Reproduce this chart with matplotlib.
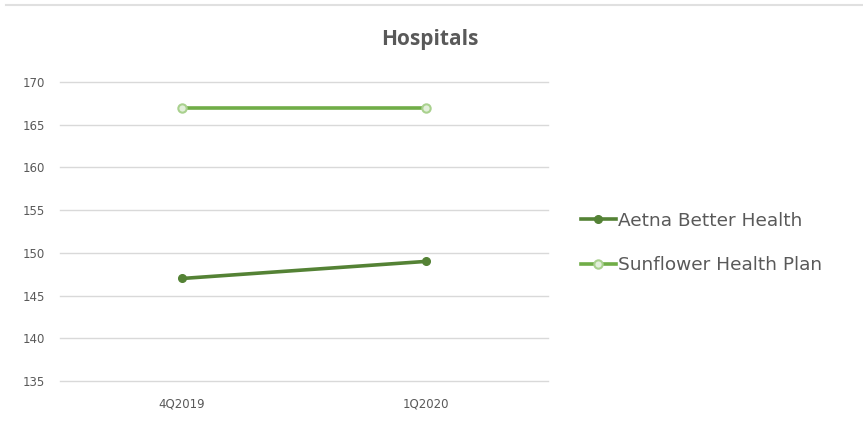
import matplotlib.pyplot as plt
import numpy as np

quarters = ["4Q2019", "1Q2020"]
aetna = [147, 149]
sunflower = [167, 167]
series_names = ["Aetna Better Health", "Sunflower Health Plan"]
yticks = [135, 140, 145, 150, 155, 160, 165, 170]

text_gray = "#595959"
grid_gray = "#D9D9D9"

fig = plt.figure(figsize=(8.63, 4.23), dpi=100)
ax = fig.add_axes([60 / 863, 42 / 423, 488 / 863, 299 / 423])

x = np.arange(len(quarters))
ax.plot(x, aetna, color="#548235", lw=2.6, marker="o", ms=5.5,
        mfc="#548235", mec="#548235", label=series_names[0])
ax.plot(x, sunflower, color="#70AD47", lw=2.6, marker="o", ms=6,
        mfc="#E2EFDA", mec="#A9D18E", mew=1.5, label=series_names[1])

ax.set_xlim(-0.5, 1.5)
ax.set_ylim(135, 170)
ax.set_yticks(yticks)
ax.set_xticks(x)
ax.set_xticklabels(quarters)
ax.yaxis.grid(True, color=grid_gray, lw=1)
for gl in ax.get_ygridlines():
    gl.set_clip_on(False)
ax.set_axisbelow(True)
for s in ax.spines.values():
    s.set_visible(False)
ax.tick_params(length=0, labelsize=8.5, labelcolor=text_gray)
ax.tick_params(axis="y", pad=11)
ax.tick_params(axis="x", pad=12)

fig.text(430 / 863, 1 - 40 / 423, "Hospitals", ha="center", va="center",
         fontsize=15, fontweight="bold", color=text_gray, family="Open Sans")

# thin frame line at top of the image
fig.add_artist(plt.Line2D([6 / 863, 1], [1 - 5 / 423] * 2, color="#E0E0E0", lw=1.5))

leg = fig.legend(loc="center left", bbox_to_anchor=(564 / 863, 1 - 243 / 423),
                 frameon=False, fontsize=13.3, handlelength=1.9, handletextpad=0.15,
                 labelspacing=1.45)
for t in leg.get_texts():
    t.set_color(text_gray)

fig.savefig("out.png", dpi=100)
